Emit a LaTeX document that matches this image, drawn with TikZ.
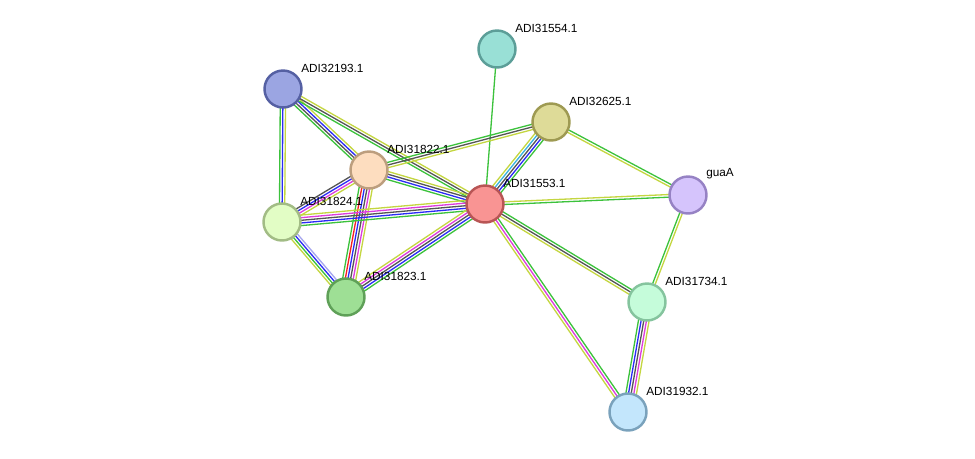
\documentclass[tikz,border=0pt]{standalone}
\usepackage{fontspec}
\setmainfont{Liberation Sans}
\usetikzlibrary{positioning, calc, backgrounds}
\usepackage{xcolor}
\definecolor{lnkgreen}{HTML}{3CC23C}
\definecolor{lnktext}{HTML}{C4D641}
\definecolor{lnkblue}{HTML}{2B2BF5}
\definecolor{lnkblack}{HTML}{555555}
\definecolor{lnkpink}{HTML}{DD3CDD}
\definecolor{lnkred}{HTML}{F52020}
\definecolor{lnkcyan}{HTML}{38B4E0}
\definecolor{lnkhomol}{HTML}{A6A6EE}
% node colours: rim / fill
\definecolor{rimA}{HTML}{5C9E98}\definecolor{fillA}{HTML}{99E0D6}
\definecolor{rimB}{HTML}{5560A3}\definecolor{fillB}{HTML}{9BA5E2}
\definecolor{rimC}{HTML}{9E9A52}\definecolor{fillC}{HTML}{DEDB98}
\definecolor{rimD}{HTML}{BC9E7E}\definecolor{fillD}{HTML}{FDDDBF}
\definecolor{rimE}{HTML}{B85555}\definecolor{fillE}{HTML}{F99493}
\definecolor{rimF}{HTML}{9682C4}\definecolor{fillF}{HTML}{D5C4FC}
\definecolor{rimG}{HTML}{A2BC85}\definecolor{fillG}{HTML}{E2FDC5}
\definecolor{rimH}{HTML}{5FA058}\definecolor{fillH}{HTML}{9EDF95}
\definecolor{rimI}{HTML}{85C49E}\definecolor{fillI}{HTML}{C5FCDA}
\definecolor{rimJ}{HTML}{7AA2BC}\definecolor{fillJ}{HTML}{C3E6FC}

% multi-line link: one parallel line per evidence colour
\newcommand{\strlink}[3]{%
  \xdef\nlines{0}%
  \foreach \c in {#3} {\pgfmathparse{int(\nlines+1)}\xdef\nlines{\pgfmathresult}}%
  \foreach \c [count=\i] in {#3} {%
    \pgfmathsetmacro{\off}{(\i-(\nlines+1)/2)*1.5}%
    \draw[link, \c] ($(#1)!\off pt!90:(#2)$) -- ($(#2)!\off pt!-90:(#1)$);
  }%
}

\begin{document}
\begin{tikzpicture}[
  x=0.02cm, y=-0.02cm,
  prot/.style={
    circle, minimum size=0.74cm, inner sep=0pt,
    line width=1.4pt, draw=rim#1, fill=fill#1
  },
  lbl/.style={anchor=west, inner sep=0pt, font=\fontsize{6.7}{8}\selectfont},
  link/.style={line width=0.75pt}
]
  \useasboundingbox (0,0) rectangle (975,458);

  \node[prot=A] (p1554) at (497,49) {};
  \node[prot=B] (p2193) at (283,89) {};
  \node[prot=C] (p2625) at (551,122) {};
  \node[prot=D] (p1822) at (369,170) {};
  \node[prot=E] (p1553) at (485,204) {};
  \node[prot=F] (guaA) at (688,195) {};
  \node[prot=G] (p1824) at (282,222) {};
  \node[prot=H] (p1823) at (346,297) {};
  \node[prot=I] (p1734) at (647,302) {};
  \node[prot=J] (p1932) at (628,412) {};

  \node[lbl] (l1554) at ($(p1554)+(18,-21)$) {ADI31554.1};
  \node[lbl] (l2193) at ($(p2193)+(18,-21)$) {ADI32193.1};
  \node[lbl] (l2625) at ($(p2625)+(18,-21)$) {ADI32625.1};
  \node[lbl] (l1822) at ($(p1822)+(18,-21)$) {ADI31822.1};
  \node[lbl] (l1553) at ($(p1553)+(18,-21)$) {ADI31553.1};
  \node[lbl] (lguaA) at ($(guaA)+(18,-21)$) {guaA};
  \node[lbl] (l1824) at ($(p1824)+(18,-21)$) {ADI31824.1};
  \node[lbl] (l1823) at ($(p1823)+(18,-21)$) {ADI31823.1};
  \node[lbl] (l1734) at ($(p1734)+(18,-21)$) {ADI31734.1};
  \node[lbl] (l1932) at ($(p1932)+(18,-21)$) {ADI31932.1};

  % links behind the nodes
  \begin{scope}[on background layer]
    \strlink{p1554}{p1553}{lnkgreen}
    \strlink{p2193}{p1824}{lnkgreen,lnkblue,lnktext}
    \strlink{p2193}{p1822}{lnkgreen,lnkblack,lnkblue,lnktext}
    \strlink{p2193}{p1553}{lnkgreen,lnkblack,lnktext}
    \strlink{p1822}{p2625}{lnktext,lnkblack,lnkgreen}
    \strlink{p1822}{p1553}{lnkgreen,lnkblue,lnkblack,lnktext}
    \strlink{p1822}{p1824}{lnkblack,lnkblue,lnkpink,lnktext}
    \strlink{p1822}{p1823}{lnkgreen,lnkred,lnkblue,lnkblack,lnkpink,lnktext}
    \strlink{p1824}{p1553}{lnkgreen,lnkblue,lnkblack,lnkpink,lnktext}
    \strlink{p1824}{p1823}{lnktext,lnkgreen,lnkblue,lnkhomol}
    \strlink{p1823}{p1553}{lnkgreen,lnkblue,lnkblack,lnkpink,lnktext}
    \strlink{p2625}{p1553}{lnktext,lnkcyan,lnkblack,lnkblue,lnkgreen}
    \strlink{p2625}{guaA}{lnktext,lnkgreen}
    \strlink{p1553}{guaA}{lnkgreen,lnktext}
    \strlink{p1553}{p1734}{lnktext,lnkblack,lnkgreen}
    \strlink{p1553}{p1932}{lnktext,lnkpink,lnkgreen}
    \strlink{guaA}{p1734}{lnkgreen,lnktext}
    \strlink{p1734}{p1932}{lnkgreen,lnkblue,lnkblack,lnkpink,lnktext}
  \end{scope}
\end{tikzpicture}
\end{document}
